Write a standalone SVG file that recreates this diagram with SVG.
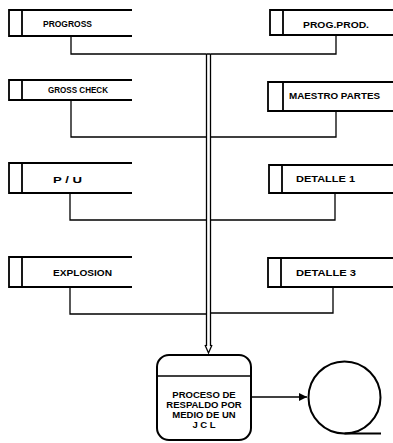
<svg xmlns="http://www.w3.org/2000/svg" width="393" height="443" viewBox="0 0 393 443">
<style>
.store{fill:none;stroke:#000;stroke-width:1.8}
.conn{fill:none;stroke:#000;stroke-width:1.3}
.lbl{font-family:"Liberation Sans",Arial,sans-serif;font-weight:bold;font-size:9px;fill:#000;dominant-baseline:central}
.plbl{font-family:"Liberation Sans",Arial,sans-serif;font-weight:bold;font-size:9.5px;fill:#000;text-anchor:middle}
</style>
<defs>
<marker id="ah" viewBox="0 0 10 10" refX="10" refY="5" markerWidth="8" markerHeight="8" markerUnits="userSpaceOnUse" orient="auto">
<path d="M0,0 L10,5 L0,10 z" fill="#000"/>
</marker>
</defs>
<rect width="393" height="443" fill="#fff"/>
<g id="connectors">
<path class="conn" d="M71,36 V54 H206.5"/>
<path class="conn" d="M336,35 V54 H210.5"/>
<path class="conn" d="M71,100 V137 H206.5"/>
<path class="conn" d="M336,111 V137 H210.5"/>
<path class="conn" d="M70,193 V220 H206.5"/>
<path class="conn" d="M335,193 V220 H210.5"/>
<path class="conn" d="M70,287 V314 H206.5"/>
<path class="conn" d="M333,287 V313 H210.5"/>
<path class="conn" d="M206.5,54 H210.5 M206.5,54 V346 M210.5,54 V346 M205,345 L208.5,353 L212,345"/>
<path class="conn" d="M251,397 H307" marker-end="url(#ah)"/>
</g>
<g id="progross">
<path class="store" d="M132,10 H9 V36 H132 M22,10 V36"/>
<text class="lbl" x="43" y="24" textLength="49" lengthAdjust="spacingAndGlyphs">PROGROSS</text>
</g>
<g id="prog-prod">
<path class="store" d="M393,10 H270 V35 H393 M283,10 V35"/>
<text class="lbl" x="303" y="25" textLength="66" lengthAdjust="spacingAndGlyphs">PROG.PROD.</text>
</g>
<g id="gross-check">
<path class="store" d="M132,80 H9 V100 H132 M22,80 V100"/>
<text class="lbl" x="48" y="90" textLength="60" lengthAdjust="spacingAndGlyphs">GROSS CHECK</text>
</g>
<g id="maestro-partes">
<path class="store" d="M393,82 H268 V111 H393 M283,82 V111"/>
<text class="lbl" x="289" y="96" textLength="91" lengthAdjust="spacingAndGlyphs">MAESTRO  PARTES</text>
</g>
<g id="p-u">
<path class="store" d="M132,163 H9 V193 H132 M22,163 V193"/>
<text class="lbl" x="53" y="180" textLength="29" lengthAdjust="spacingAndGlyphs">P / U</text>
</g>
<g id="detalle-1">
<path class="store" d="M393,165 H269 V193 H393 M282,165 V193"/>
<text class="lbl" x="296" y="179" textLength="59" lengthAdjust="spacingAndGlyphs">DETALLE 1</text>
</g>
<g id="explosion">
<path class="store" d="M132,257 H9 V287 H132 M22,257 V287"/>
<text class="lbl" x="53" y="273" textLength="59" lengthAdjust="spacingAndGlyphs">EXPLOSION</text>
</g>
<g id="detalle-3">
<path class="store" d="M393,258 H268 V287 H393 M281,258 V287"/>
<text class="lbl" x="296" y="273" textLength="60" lengthAdjust="spacingAndGlyphs">DETALLE 3</text>
</g>
<g id="proceso">
<rect x="157" y="355" width="94" height="85" rx="12" ry="12" fill="none" stroke="#000" stroke-width="2"/>
<line x1="157" y1="376" x2="251" y2="376" stroke="#000" stroke-width="1.5"/>
<text class="plbl" x="204" y="398">PROCESO DE</text>
<text class="plbl" x="204" y="408">RESPALDO POR</text>
<text class="plbl" x="204" y="418">MEDIO DE UN</text>
<text class="plbl" x="204" y="428">J C L</text>
</g>
<g id="cinta">
<circle cx="344.5" cy="397.5" r="36" fill="none" stroke="#000" stroke-width="2"/>
<line x1="344.5" y1="433.5" x2="381" y2="433.5" stroke="#000" stroke-width="2"/>
</g>
</svg>
